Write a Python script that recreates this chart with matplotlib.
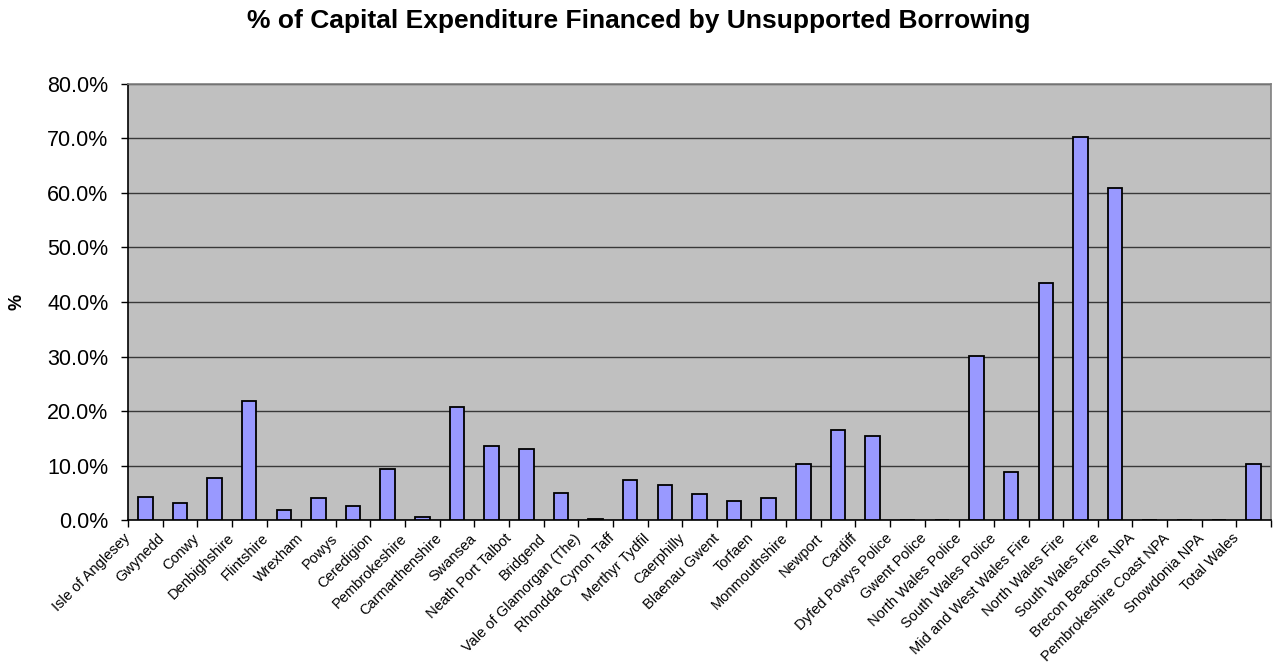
import numpy as np
import matplotlib
matplotlib.use("Agg")
import matplotlib.pyplot as plt
from matplotlib.ticker import FuncFormatter, MultipleLocator

plt.rcParams['font.family'] = ['Liberation Sans', 'DejaVu Sans']

# data (percent)
authorities = [
    "Isle of Anglesey", "Gwynedd", "Conwy", "Denbighshire", "Flintshire",
    "Wrexham", "Powys", "Ceredigion", "Pembrokeshire", "Carmarthenshire",
    "Swansea", "Neath Port Talbot", "Bridgend", "Vale of Glamorgan (The)",
    "Rhondda Cynon Taff", "Merthyr Tydfil", "Caerphilly", "Blaenau Gwent",
    "Torfaen", "Monmouthshire", "Newport", "Cardiff", "Dyfed Powys Police",
    "Gwent Police", "North Wales Police", "South Wales Police",
    "Mid and West Wales Fire", "North Wales Fire", "South Wales Fire",
    "Brecon Beacons NPA", "Pembrokeshire Coast NPA", "Snowdonia NPA",
    "Total Wales",
]
pct_unsupported = [
    4.2, 3.2, 7.7, 21.9, 1.9,
    4.1, 2.5, 9.4, 0.5, 20.7,
    13.6, 13.0, 4.9, 0.2,
    7.4, 6.4, 4.7, 3.5,
    4.0, 10.2, 16.5, 15.5, 0.0,
    0.0, 30.1, 8.8,
    43.4, 70.2, 60.9,
    0.0, 0.0, 0.0,
    10.3,
]

fig = plt.figure(figsize=(12.77, 6.66), dpi=100)
ax = fig.add_axes([0.1002, 0.2192, 0.8951, 0.6547])

x = np.arange(len(authorities))
ax.bar(x, pct_unsupported, width=0.42, color="#9999FF", edgecolor="black",
       linewidth=1.3, zorder=3)

ax.set_facecolor("#C0C0C0")
ax.set_xlim(-0.5, len(authorities) - 0.5)
ax.set_ylim(0, 80)
ax.yaxis.set_major_locator(MultipleLocator(10))
ax.yaxis.set_major_formatter(FuncFormatter(lambda v, p: "%.1f%%" % v))
ax.grid(axis="y", color="#383838", linewidth=1.0, zorder=1)

# tick marks at category boundaries; slanted labels sit a little left of each bar
ax.set_xticks(np.append(x - 0.5, len(authorities) - 0.5))
ax.set_xticklabels([])
ax.set_xticks(x - 0.36, minor=True)
ax.set_xticklabels(authorities, minor=True, rotation=45, ha="right",
                   va="top", fontsize=10.5)
ax.tick_params(axis="x", which="minor", length=0, pad=8)
ax.tick_params(axis="x", which="major", length=5, direction="out", width=1)
ax.tick_params(axis="y", length=5, direction="out", width=1, labelsize=15.5, pad=9)

for side in ["top", "right"]:
    ax.spines[side].set_color("#808080")
    ax.spines[side].set_linewidth(1.2)
for side in ["left", "bottom"]:
    ax.spines[side].set_color("black")
    ax.spines[side].set_linewidth(1.2)

fig.text(0.0135, 0.547, "%", rotation=90, ha="center", va="center",
         fontsize=13, fontweight="bold")
fig.text(0.5, 0.968, "% of Capital Expenditure Financed by Unsupported Borrowing",
         ha="center", va="center", fontsize=19, fontweight="bold")

fig.savefig("out.png", dpi=100)
